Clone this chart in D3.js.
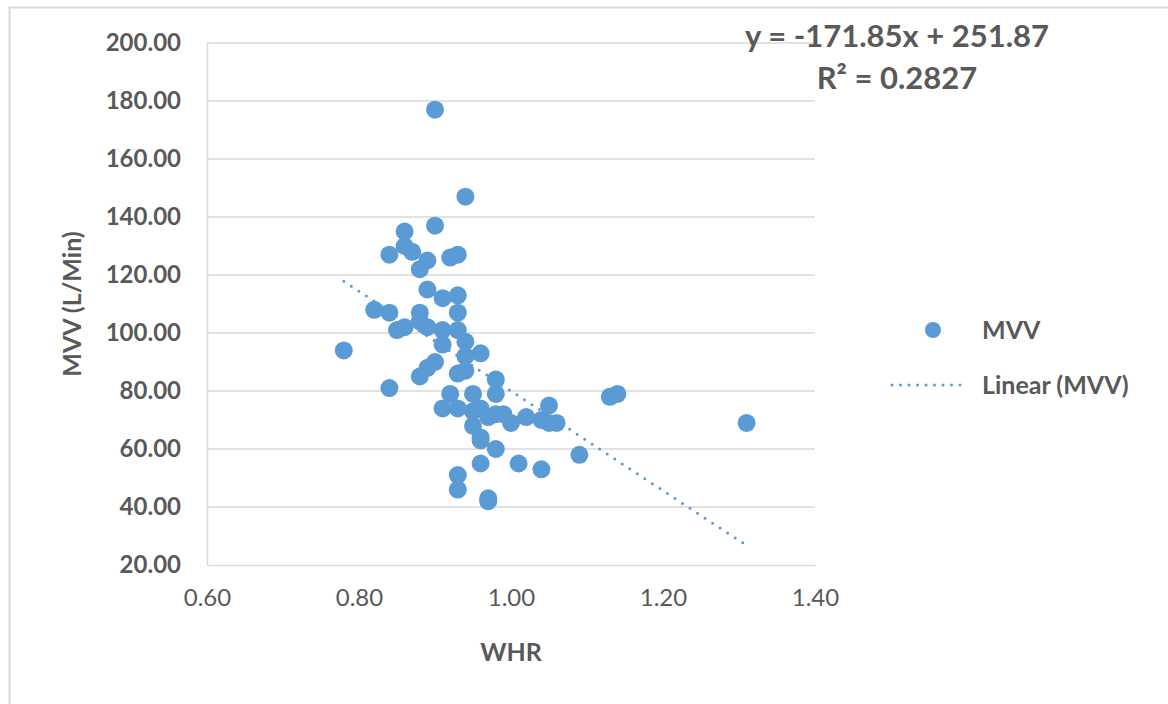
<!DOCTYPE html>
<html>
<head>
<meta charset="utf-8">
<script src="https://cdn.jsdelivr.net/npm/d3@7"></script>
<style>
  body { margin: 0; background: #fff; }
  text { font-family: Lato, "Open Sans", sans-serif; fill: #595959; }
</style>
</head>
<body>
<script>
//WHR values
var whr = [0.90, 0.94, 0.90, 0.86, 0.86, 0.87, 0.84, 0.89, 0.88, 0.92,
           0.93, 0.89, 0.91, 0.93, 0.82, 0.84, 0.88, 0.93, 0.85, 0.86,
           0.88, 0.89, 0.91, 0.93, 0.94, 0.91, 0.96, 0.94, 0.90, 0.89,
           0.88, 0.93, 0.94, 0.78, 0.84, 0.98, 0.92, 0.95, 0.98, 0.91,
           0.93, 0.95, 0.96, 0.99, 1.02, 1.05, 1.04, 1.06, 1.05, 0.95,
           1.00, 0.97, 0.96, 0.98, 0.96, 1.01, 1.04, 1.09, 0.93, 0.93,
           0.97, 0.97, 1.13, 1.14, 1.31, 0.96, 0.98];

//MVV values (L/Min), same order
var mvv = [177, 147, 137, 135, 130, 128, 127, 125, 122, 126,
           127, 115, 112, 113, 108, 107, 107, 107, 101, 102,
           104, 102, 101, 101, 97, 96, 93, 92, 90, 88,
           85, 86, 87, 94, 81, 84, 79, 79, 79, 74,
           74, 73, 74, 72, 71, 75, 70, 69, 69, 68,
           69, 71, 64, 60, 55, 55, 53, 58, 51, 46,
           43, 42, 78, 79, 69, 63, 72];

//tick labels
var xTicks = [0.6, 0.8, 1.0, 1.2, 1.4];
var yTicks = [20, 40, 60, 80, 100, 120, 140, 160, 180, 200];

//trend line coefficients as printed on the chart
var slope = -171.85,
    intercept = 251.87,
    rSquared = 0.2827;

var width = 1168,
    height = 704;

var svg = d3.select("body").append("svg")
    .attr("width", width)
    .attr("height", height);

//outer chart frame (only top and left edges are in view)
svg.append("rect")
    .attr("x", 9.5)
    .attr("y", 7.5)
    .attr("width", 1300)
    .attr("height", 900)
    .style("fill", "none")
    .style("stroke", "#d9d9d9")
    .style("stroke-width", 2);

//scales
var x = d3.scaleLinear().domain([0.6, 1.4]).range([207, 815]);
var y = d3.scaleLinear().domain([20, 200]).range([565, 43]);

var blue = "#5b9bd5";

//horizontal gridlines
svg.append("g")
    .selectAll("line")
    .data(yTicks.slice(1))
    .enter().append("line")
    .attr("x1", x(0.6))
    .attr("x2", x(1.4))
    .attr("y1", function(d) { return y(d); })
    .attr("y2", function(d) { return y(d); })
    .style("stroke", "#d9d9d9")
    .style("stroke-width", 1.5);

//y axis
var yAxis = svg.append("g")
    .attr("transform", "translate(" + x(0.6) + ",0)")
    .call(d3.axisLeft(y).tickValues(yTicks).tickSize(0).tickPadding(26)
        .tickFormat(d3.format(".2f")));

//x axis
var xAxis = svg.append("g")
    .attr("transform", "translate(0," + y(20) + ")")
    .call(d3.axisBottom(x).tickValues(xTicks).tickSize(0).tickPadding(24)
        .tickFormat(d3.format(".2f")));

yAxis.select(".domain").style("stroke", "#d9d9d9").style("stroke-width", 1.5);
xAxis.select(".domain").style("stroke", "#d9d9d9").style("stroke-width", 1.5);

yAxis.selectAll("text")
    .style("font-size", "24px")
    .style("font-weight", "bold")
    .style("fill", "#595959");

xAxis.selectAll("text")
    .style("font-size", "24px")
    .style("fill", "#595959");

//axis titles
svg.append("text")
    .attr("x", (x(0.6) + x(1.4)) / 2)
    .attr("y", 661)
    .attr("text-anchor", "middle")
    .style("font-size", "25px")
    .style("font-weight", "bold")
    .text("WHR");

svg.append("text")
    .attr("transform", "translate(81," + (y(20) + y(200)) / 2 + ") rotate(-90)")
    .attr("text-anchor", "middle")
    .style("font-size", "25px")
    .style("font-weight", "bold")
    .text("MVV (L/Min)");

//trend line over the range of the data
var xExt = d3.extent(whr);
svg.append("line")
    .attr("x1", x(xExt[0]))
    .attr("y1", y(slope * xExt[0] + intercept))
    .attr("x2", x(xExt[1]))
    .attr("y2", y(slope * xExt[1] + intercept))
    .style("stroke", blue)
    .style("stroke-width", 3)
    .style("stroke-linecap", "round")
    .style("stroke-dasharray", "0,9");

//scatter points
var points = whr.map(function(d, i) { return { whr: d, mvv: mvv[i] }; });

svg.append("g")
    .selectAll("circle")
    .data(points)
    .enter().append("circle")
    .attr("cx", function(d) { return x(d.whr); })
    .attr("cy", function(d) { return y(d.mvv); })
    .attr("r", 9)
    .style("fill", blue);

//equation label
svg.append("text")
    .attr("x", 897)
    .attr("y", 47)
    .attr("text-anchor", "middle")
    .style("font-size", "31px")
    .style("font-weight", "bold")
    .text("y = " + slope + "x + " + intercept);

svg.append("text")
    .attr("x", 897)
    .attr("y", 89)
    .attr("text-anchor", "middle")
    .style("font-size", "31px")
    .style("font-weight", "bold")
    .text("R\u00b2 = " + rSquared);

//legend
var legend = svg.append("g");

legend.append("circle")
    .attr("cx", 933)
    .attr("cy", 330)
    .attr("r", 8)
    .style("fill", blue);

legend.append("text")
    .attr("x", 982)
    .attr("y", 339)
    .style("font-size", "25px")
    .style("font-weight", "bold")
    .text("MVV");

legend.append("line")
    .attr("x1", 892)
    .attr("x2", 968)
    .attr("y1", 385)
    .attr("y2", 385)
    .style("stroke", blue)
    .style("stroke-width", 3)
    .style("stroke-linecap", "round")
    .style("stroke-dasharray", "0,8.5");

legend.append("text")
    .attr("x", 982)
    .attr("y", 394)
    .style("font-size", "25px")
    .style("font-weight", "bold")
    .text("Linear (MVV)");
</script>
</body>
</html>
